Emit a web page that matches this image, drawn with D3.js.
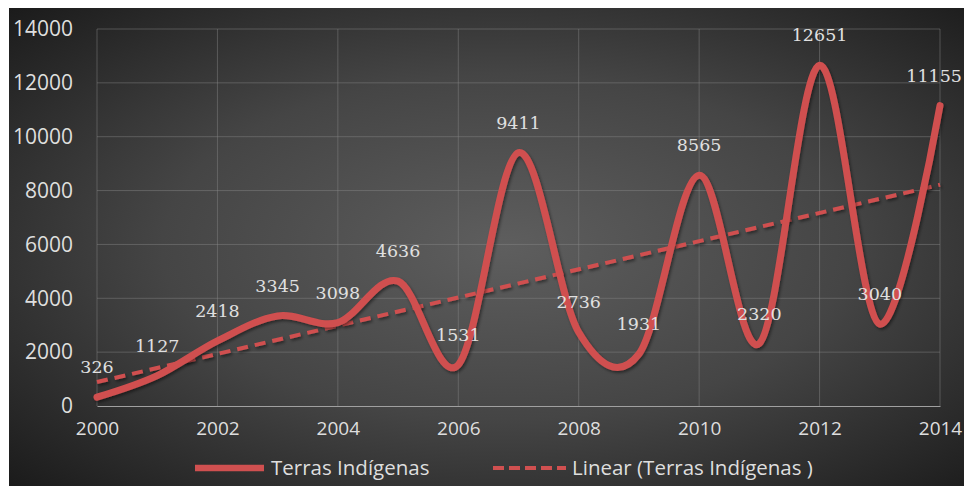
<!DOCTYPE html>
<html>
<head>
<meta charset="utf-8">
<script src="https://d3js.org/d3.v7.min.js"></script>
<style>
  body { margin: 0; background: #fff; }
  svg { display: block; }
</style>
</head>
<body>
<svg width="964" height="486"></svg>
<script>
// Terras Indígenas, per year
var years = [2000, 2001, 2002, 2003, 2004, 2005, 2006, 2007, 2008, 2009, 2010, 2011, 2012, 2013, 2014];
var values = [326, 1127, 2418, 3345, 3098, 4636, 1531, 9411, 2736, 1931, 8565, 2320, 12651, 3040, 11155];
var xTicks = [2000, 2002, 2004, 2006, 2008, 2010, 2012, 2014];
var yTicks = [0, 2000, 4000, 6000, 8000, 10000, 12000, 14000];
var seriesName = "Terras Indígenas";
var trendName = "Linear (Terras Indígenas )";

var svg = d3.select("svg"),
  margin = {top: 29, right: 24, bottom: 80, left: 97},
  width = +svg.attr("width") - margin.left - margin.right,
  height = +svg.attr("height") - margin.top - margin.bottom;

var red = "#d05050";

// background
var defs = svg.append("defs");
var grad = defs.append("radialGradient")
    .attr("id", "bg")
    .attr("cx", "52%").attr("cy", "50%").attr("r", "72%");
grad.append("stop").attr("offset", "0%").attr("stop-color", "#5e5e5e");
grad.append("stop").attr("offset", "50%").attr("stop-color", "#454545");
grad.append("stop").attr("offset", "100%").attr("stop-color", "#1b1b1b");

var shadow = defs.append("filter").attr("id", "shadow")
    .attr("x", "-10%").attr("y", "-10%").attr("width", "120%").attr("height", "120%");
shadow.append("feDropShadow")
    .attr("dx", 1.5).attr("dy", 2).attr("stdDeviation", 1.5)
    .attr("flood-color", "#000").attr("flood-opacity", 0.45);

svg.append("rect")
    .attr("x", 9).attr("y", 8)
    .attr("width", 955).attr("height", 478)
    .attr("fill", "url(#bg)");

var g = svg.append("g").attr("transform", "translate(" + margin.left + "," + margin.top + ")");

var x = d3.scaleLinear().domain([2000, 2014]).range([0, width]);
var y = d3.scaleLinear().domain([0, 14000]).range([height, 0]);

// gridlines
g.append("g")
    .selectAll("line.h")
    .data(yTicks.slice(1))
    .enter().append("line")
    .attr("x1", 0).attr("x2", width)
    .attr("y1", function(d) { return y(d); })
    .attr("y2", function(d) { return y(d); })
    .attr("stroke", "#8a8a8a").attr("stroke-opacity", 0.45).attr("stroke-width", 1);

g.append("g")
    .selectAll("line.v")
    .data(xTicks)
    .enter().append("line")
    .attr("y1", 0).attr("y2", height)
    .attr("x1", function(d) { return x(d); })
    .attr("x2", function(d) { return x(d); })
    .attr("stroke", "#8a8a8a").attr("stroke-opacity", 0.45).attr("stroke-width", 1);

// axes
var xAxis = g.append("g")
    .attr("transform", "translate(0," + height + ")")
    .call(d3.axisBottom(x).tickValues(xTicks).tickFormat(d3.format("d")).tickSize(0).tickPadding(16));
xAxis.select(".domain").attr("stroke", "#a0a0a0").attr("stroke-width", 1.2);
xAxis.selectAll(".tick text").style("font-size", "19px");

var yAxis = g.append("g")
    .call(d3.axisLeft(y).tickValues(yTicks).tickFormat(d3.format("d")).tickSize(0).tickPadding(24));
yAxis.select(".domain").remove();
yAxis.selectAll(".tick text").style("font-size", "21px");

g.selectAll(".tick text")
    .attr("fill", "#dedede")
    .style("font-family", "'Open Sans', sans-serif");

// trendline (least squares on the data)
var n = years.length,
  mx = d3.mean(years),
  my = d3.mean(values),
  slope = d3.sum(years, function(v, i) { return (v - mx) * (values[i] - my); }) /
          d3.sum(years, function(v) { return (v - mx) * (v - mx); }),
  icpt = my - slope * mx;

g.append("line")
    .attr("x1", x(years[0])).attr("y1", y(icpt + slope * years[0]))
    .attr("x2", x(years[n - 1])).attr("y2", y(icpt + slope * years[n - 1]))
    .attr("stroke", red).attr("stroke-width", 4)
    .attr("stroke-dasharray", "11,7")
    .attr("filter", "url(#shadow)");

// smoothed series
var data = years.map(function(v, i) { return {year: v, value: values[i]}; });
var line = d3.line()
    .curve(d3.curveCardinal.tension(0))
    .x(function(d) { return x(d.year); })
    .y(function(d) { return y(d.value); });

g.append("path")
    .datum(data)
    .attr("d", line)
    .attr("fill", "none")
    .attr("stroke", red)
    .attr("stroke-width", 7)
    .attr("stroke-linecap", "round")
    .attr("stroke-linejoin", "round")
    .attr("filter", "url(#shadow)");

// data labels
var labels = g.selectAll(".lbl")
    .data(data)
    .enter().append("text")
    .attr("class", "lbl")
    .attr("x", function(d) { return x(d.year); })
    .attr("y", function(d) { return y(d.value) - 30; })
    .attr("dy", "0.35em")
    .attr("text-anchor", "middle")
    .attr("fill", "#e0e0e0")
    .style("font-family", "'DejaVu Serif', serif")
    .style("font-size", "17.5px")
    .text(function(d) { return d.value; });

// keep the last label inside the frame
labels.each(function() {
  var b = this.getBBox(), over = margin.left + b.x + b.width - 962;
  if (over > 0) d3.select(this).attr("x", +d3.select(this).attr("x") - over);
});

// legend
var legend = svg.append("g").attr("transform", "translate(0,468)");
legend.append("line")
    .attr("x1", 195).attr("x2", 264).attr("y1", 0).attr("y2", 0)
    .attr("stroke", red).attr("stroke-width", 6.5);
legend.append("text")
    .attr("x", 271).attr("dy", "0.35em")
    .attr("fill", "#dedede")
    .style("font-family", "'Open Sans', sans-serif")
    .style("font-size", "20.5px")
    .text(seriesName);
legend.append("line")
    .attr("x1", 493).attr("x2", 566).attr("y1", 0).attr("y2", 0)
    .attr("stroke", red).attr("stroke-width", 4)
    .attr("stroke-dasharray", "11,5");
legend.append("text")
    .attr("x", 572).attr("dy", "0.35em")
    .attr("fill", "#dedede")
    .style("font-family", "'Open Sans', sans-serif")
    .style("font-size", "20.5px")
    .text(trendName);
</script>
</body>
</html>
